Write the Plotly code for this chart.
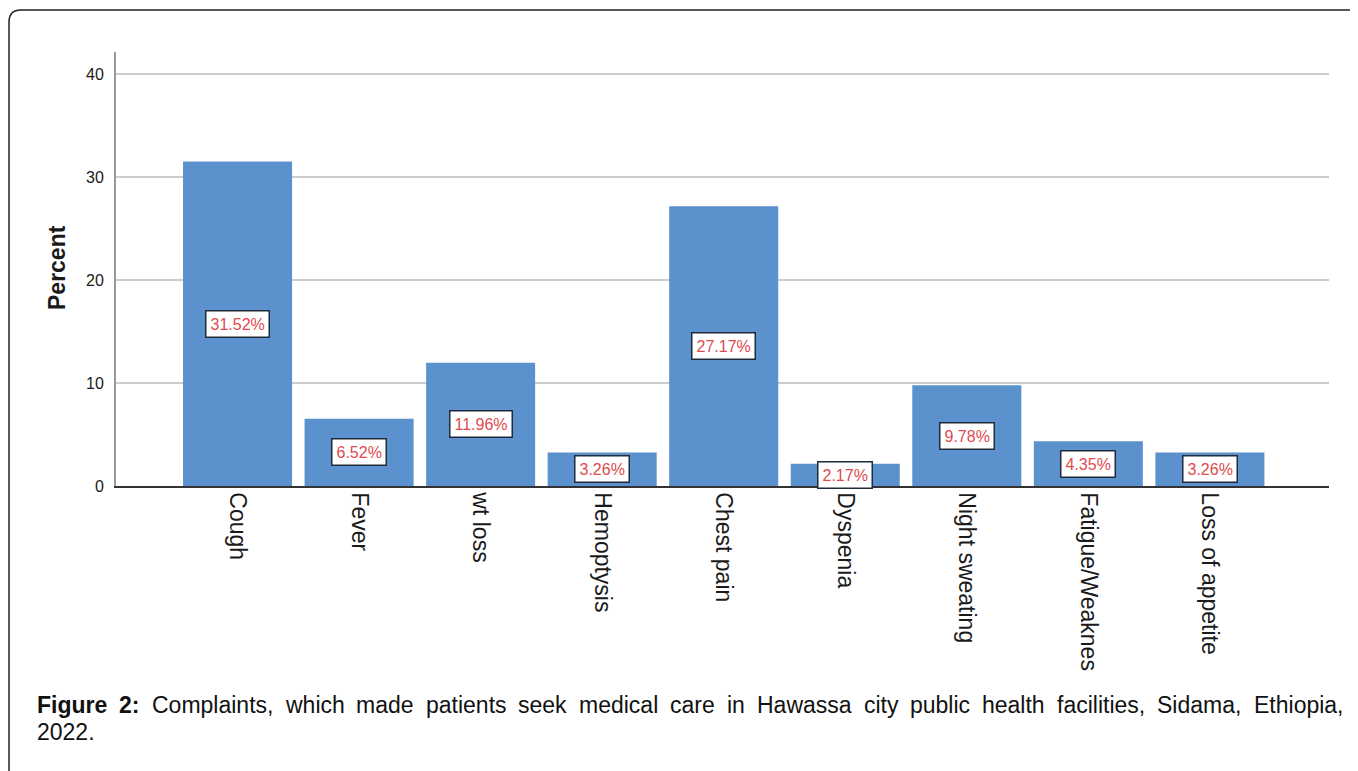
import plotly.graph_objects as go

# ---------------- data ----------------
categories = ["Cough", "Fever", "wt loss", "Hemoptysis", "Chest pain", "Dyspenia",
              "Night sweating", "Fatigue/Weaknes", "Loss of appetite"]
percents = [31.52, 6.52, 11.96, 3.26, 27.17, 2.17, 9.78, 4.35, 3.26]
value_labels = ["31.52%", "6.52%", "11.96%", "3.26%", "27.17%", "2.17%", "9.78%", "4.35%", "3.26%"]
y_ticks = [0, 10, 20, 30, 40]
caption_bold = ["Figure", "2:"]
caption_words = ["Complaints,", "which", "made", "patients", "seek", "medical", "care", "in",
                 "Hawassa", "city", "public", "health", "facilities,", "Sidama,", "Ethiopia,"]
caption_line2 = "2022."

# ---------------- layout helpers ----------------
# page body has an 8px margin; work in window pixels and convert
OFF = 8
W, H = 1358 - OFF, 771 - OFF
PLOT_L, PLOT_R, PLOT_T, PLOT_B = 116, 1329, 52, 486      # window pixels
ML, MT = PLOT_L - OFF, PLOT_T - OFF
MR, MB = W - (PLOT_R - OFF), H - (PLOT_B - OFF)
PW, PH = PLOT_R - PLOT_L, PLOT_B - PLOT_T


def px(x):
    return (x - PLOT_L) / PW


def py(y):
    return (PLOT_B - y) / PH


BAR = "#5b91cc"
TXT = "#1a1a1a"
SANS = "Liberation Sans, Arial, sans-serif"

fig = go.Figure()
fig.add_trace(go.Bar(
    x=categories, y=percents, marker=dict(color=BAR, line=dict(width=0)),
    hoverinfo="skip", showlegend=False,
))

# value label boxes centred in bars
for c, v, lab in zip(categories, percents, value_labels):
    fig.add_annotation(
        x=c, y=v / 2, xref="x", yref="y", text=lab, showarrow=False,
        font=dict(family=SANS, size=16, color="#e04a4f"),
        bgcolor="white", bordercolor="#1f2b3a", borderwidth=1.5, borderpad=4,
    )

# y axis title
fig.add_annotation(
    x=px(57), y=py(268), xref="paper", yref="paper", xanchor="center", yanchor="middle",
    text="<b>Percent</b>", textangle=-90, showarrow=False,
    font=dict(family=SANS, size=23, color=TXT),
)

# ---------------- caption (justified line) ----------------
cap_family, cap_size = SANS, 23
REG = {' ': 278, ',': 278, '.': 278, ':': 278, 'a': 556, 'b': 556, 'c': 500, 'd': 556,
       'e': 556, 'f': 278, 'g': 556, 'h': 556, 'i': 222, 'k': 500, 'l': 222, 'm': 833,
       'n': 556, 'o': 556, 'p': 556, 'r': 333, 's': 500, 't': 278, 'u': 556, 'w': 722,
       'y': 500, 'C': 722, 'E': 667, 'H': 722, 'S': 667, '0': 556, '2': 556}
BOLD = {'F': 611, 'i': 278, 'g': 611, 'u': 611, 'r': 389, 'e': 556, '2': 556, ':': 333, ' ': 278}


def width(word, table):
    return sum(table.get(ch, 556) for ch in word) * cap_size / 1000.0


words = [(w, True) for w in caption_bold] + [(w, False) for w in caption_words]
widths = [width(w, BOLD if b else REG) for w, b in words]
left, right = 37, 1343
gap = (right - left - sum(widths)) / (len(words) - 1)
line1_y, line2_y = 705, 732
xpos = left
for (w, b), wd in zip(words, widths):
    fig.add_annotation(
        x=px(xpos), y=py(line1_y), xref="paper", yref="paper", xanchor="left", yanchor="middle",
        text=f"<b>{w}</b>" if b else w, showarrow=False, borderpad=0, borderwidth=0,
        font=dict(family=cap_family, size=cap_size, color="#111111"),
    )
    xpos += wd + gap
fig.add_annotation(
    x=px(left), y=py(line2_y), xref="paper", yref="paper", xanchor="left", yanchor="middle",
    text=caption_line2, showarrow=False, borderpad=0, borderwidth=0,
    font=dict(family=cap_family, size=cap_size, color="#111111"),
)

# rounded frame (top-left corner visible)
frame = (f"M {px(9)} {py(800)} L {px(9)} {py(22)} "
         f"Q {px(9)} {py(10)} {px(21)} {py(10)} L {px(1400)} {py(10)}")
fig.add_shape(type="path", path=frame, xref="paper", yref="paper",
              line=dict(color="#222222", width=1.5))

fig.update_layout(
    width=W, height=H, margin=dict(l=ML, r=MR, t=MT, b=MB, pad=0),
    paper_bgcolor="white", plot_bgcolor="white", bargap=0.103,
    font=dict(family=SANS, color=TXT),
    xaxis=dict(
        type="category", range=[-1.0, 8.98], showline=True, linecolor="#333333", linewidth=1.5,
        showgrid=False, ticks="", tickangle=90, tickfont=dict(size=23, color=TXT, family=SANS),
        fixedrange=True,
    ),
    yaxis=dict(
        range=[0, 42.14], tickvals=y_ticks, showline=True, linecolor="#9a9a9a", linewidth=2,
        showgrid=True, gridcolor="#cccccc", gridwidth=1.5, zeroline=False, ticks="",
        tickfont=dict(size=16, color=TXT, family=SANS), ticklabelstandoff=7, fixedrange=True,
    ),
)

fig.write_html("out.html")
